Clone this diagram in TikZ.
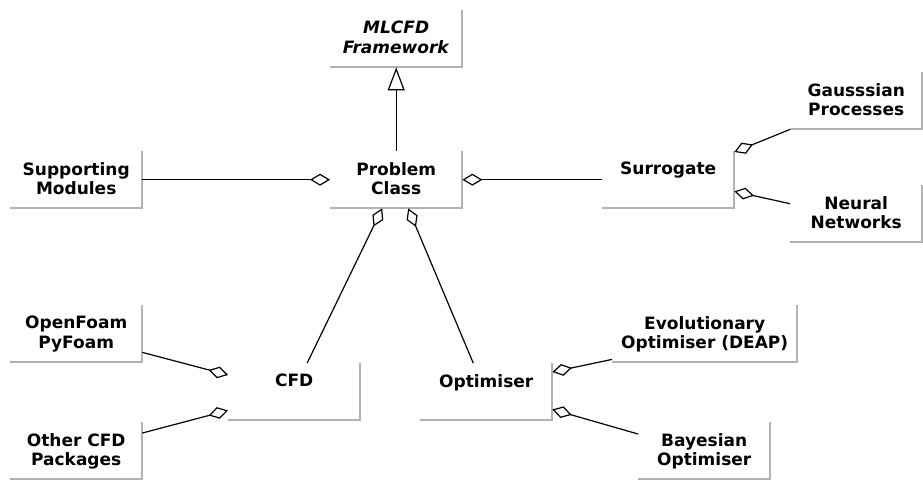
\documentclass[tikz,border=0pt]{standalone}
\usepackage{fontspec}
\setmainfont{DejaVu Sans}
\usetikzlibrary{arrows.meta}

\begin{document}
\begin{tikzpicture}[
    x=1pt, y=-1pt,
    cls/.style={rectangle, minimum width=132pt, minimum height=57pt, inner sep=0pt,
        anchor=north west, label={[clsname]north:{#1}}},
    clsname/.style={anchor=north, yshift=-11pt, inner sep=0pt, align=center,
        font=\bfseries\fontsize{17}{19.5}\selectfont},
    rim/.style={draw=black!30, line width=2pt},
    gen/.style={-{Triangle[open, length=23pt, width=17pt]}, line width=1.2pt},
    agg/.style={-{Diamond[open, length=20pt, width=12pt]}, line width=1.2pt}
]
\useasboundingbox (0,0) rectangle (923,479);
\node[cls={\textit{MLCFD}\\\textit{Framework}}] (fw) at (330,10) {};
\node[cls={Problem\\Class}] (prob) at (330,151) {};
\node[cls={Supporting\\Modules}] (supp) at (10,151) {};
\node[cls={Surrogate}] (surr) at (602,151) {};
\node[cls={Gausssian\\Processes}] (gp) at (790,72) {};
\node[cls={Neural\\Networks}] (nn) at (790,185) {};
\node[cls={OpenFoam\\PyFoam}] (of) at (10,305) {};
\node[cls={Other CFD\\Packages}] (other) at (10,422) {};
\node[cls={CFD}] (cfd) at (228,363) {};
\node[cls={Optimiser}] (opt) at (420,363) {};
\node[cls={Evolutionary\\Optimiser (DEAP)}, minimum width=185pt] (evo) at (612,305) {};
\node[cls={Bayesian\\Optimiser}] (bay) at (638,422) {};
\foreach \n in {fw,prob,supp,surr,gp,nn,of,other,cfd,opt,evo,bay}
    \draw[rim] (\n.north east) |- (\n.south west);
\draw[gen] (prob) -- (fw);
\draw[agg] (supp) -- (prob);
\draw[agg] (surr) -- (prob);
\draw[agg] ([xshift=13pt]cfd.north) -- ([xshift=-14pt]prob.south);
\draw[agg] ([xshift=-13pt]opt.north) -- ([xshift=12pt]prob.south);
\draw[agg] (gp.south west) -- ([yshift=-1pt]surr.north east);
\draw[agg] ([yshift=10pt]nn.west) -- ([yshift=17pt]surr.south east);
\draw[agg] ([yshift=10pt]of.south east) -- ([yshift=-12pt]cfd.north west);
\draw[agg] ([yshift=-11pt]other.north east) -- ([yshift=10pt]cfd.south west);
\draw[agg] ([yshift=3pt]evo.south west) -- ([yshift=-9pt]opt.north east);
\draw[agg] ([yshift=-12pt]bay.north west) -- ([yshift=11pt]opt.south east);
\end{tikzpicture}
\end{document}
